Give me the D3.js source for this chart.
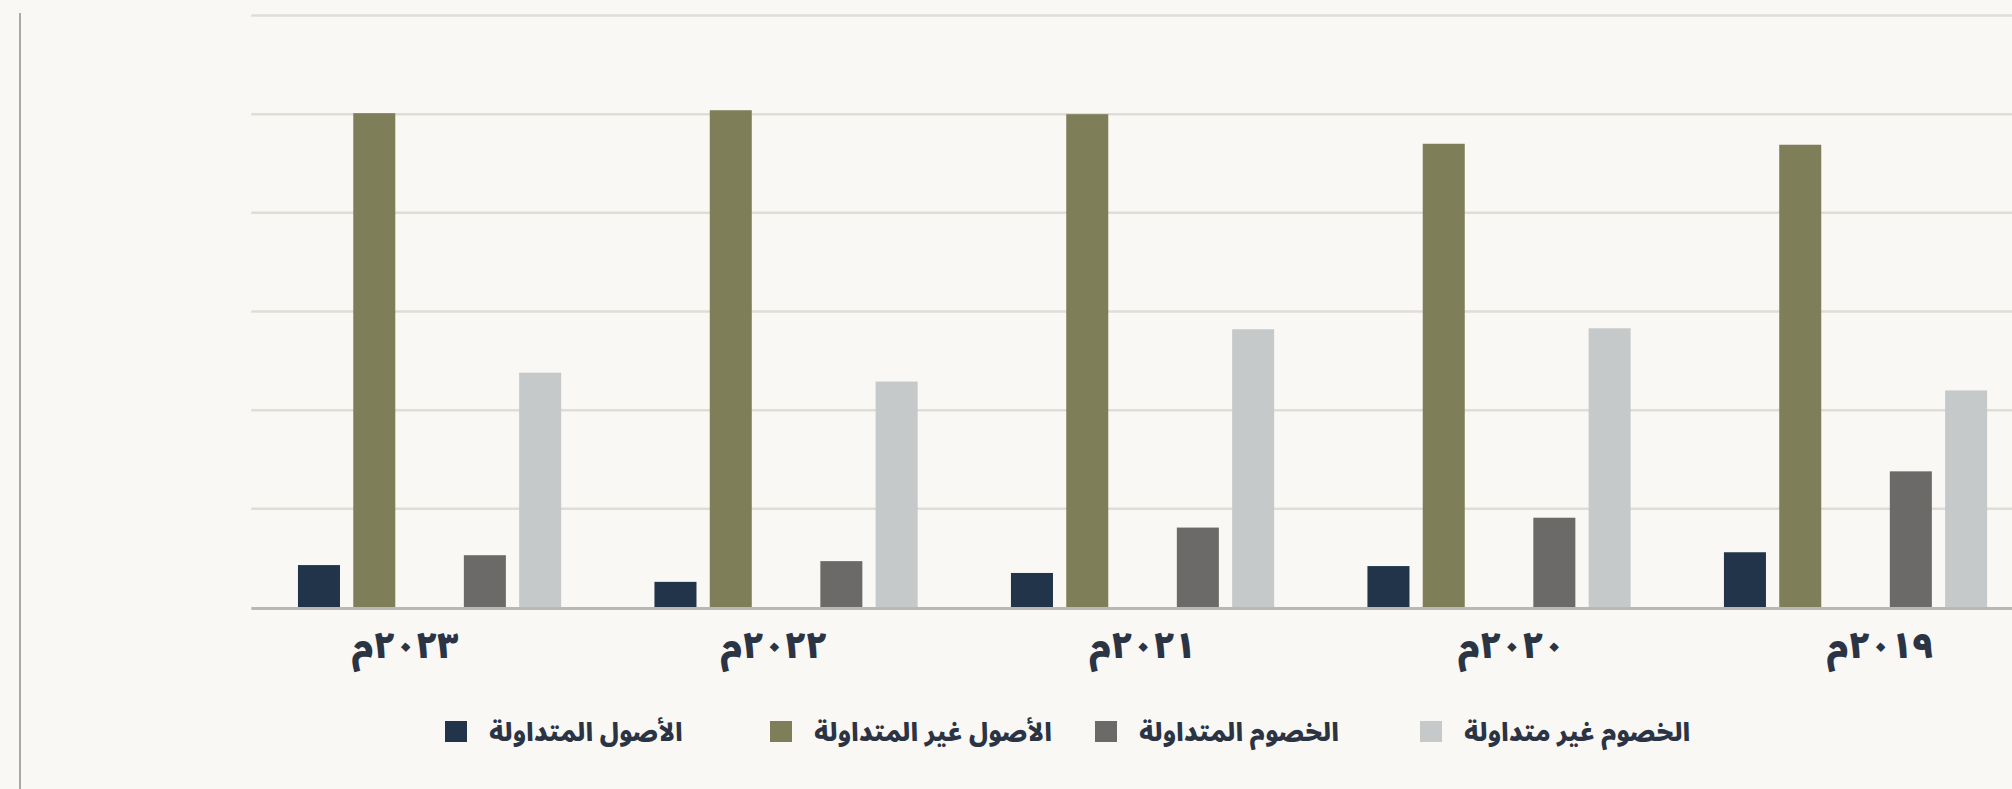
<!DOCTYPE html>
<html lang="ar">
<head>
<meta charset="utf-8">
<script src="https://cdn.jsdelivr.net/npm/d3@7/dist/d3.min.js"></script>
<style>
  html, body { margin: 0; padding: 0; background: #faf8f4; overflow: hidden; }
  svg { display: block; }
  text { font-family: "Noto Sans Arabic", "DejaVu Sans", sans-serif; font-weight: 900; }
</style>
</head>
<body>
<svg id="chart" width="2012" height="789"></svg>
<script>
// ---- data ----
const categories = ["٢٠٢٣م", "٢٠٢٢م", "٢٠٢١م", "٢٠٢٠م", "٢٠١٩م"];
const seriesNames = ["الأصول المتداولة", "الأصول غير المتداولة", "الخصوم المتداولة", "الخصوم غير متداولة"];
const currentAssets        = [43, 26, 35, 42, 56];
const nonCurrentAssets     = [501, 504, 500, 470, 469];
const currentLiabilities   = [53, 47, 81, 91, 138];
const nonCurrentLiabilities = [238, 229, 282, 283, 220];
const yTicks = [0, 100, 200, 300, 400, 500, 600];
const seriesColors = ["#213449", "#7e7f58", "#6b6a69", "#c6c9ca"];
// slot order inside each group (third slot is an empty gap in the source chart)
const slotKeys = ["s0", "s1", "gap", "s2", "s3"];

const seriesValues = [currentAssets, nonCurrentAssets, currentLiabilities, nonCurrentLiabilities];
const seriesSlot = ["s0", "s1", "s2", "s3"];

// ---- layout ----
const W = 2012, H = 789;
const svg = d3.select("#chart");
svg.append("rect").attr("width", W).attr("height", H).attr("fill", "#faf8f4");

const plotLeft = 251.3, plotRight = 2033.8;
const y = d3.scaleLinear().domain([0, 600]).range([607.5, 15.5]);
const x0 = d3.scaleBand().domain(categories).range([plotLeft, plotRight])
  .paddingInner(0.2617).paddingOuter(0.1309);
const x1 = d3.scaleBand().domain(slotKeys).range([0, x0.bandwidth()]).paddingInner(0.24);
const xLabel = d3.scalePoint().domain(categories).range([405, 1880]);

// left frame line
svg.append("line")
  .attr("x1", 20).attr("x2", 20).attr("y1", 13).attr("y2", H)
  .attr("stroke", "#a9a9a7").attr("stroke-width", 2);

// gridlines
svg.append("g").selectAll("line")
  .data(yTicks.filter(t => t !== 0))
  .join("line")
  .attr("x1", plotLeft).attr("x2", W)
  .attr("y1", d => y(d)).attr("y2", d => y(d))
  .attr("stroke", "#e0ddd7").attr("stroke-width", 2.5);

// bars
const rows = [];
categories.forEach((c, i) => {
  seriesValues.forEach((vals, s) => {
    rows.push({ cat: c, slot: seriesSlot[s], value: vals[i], color: seriesColors[s] });
  });
});
svg.append("g").selectAll("rect")
  .data(rows)
  .join("rect")
  .attr("x", d => x0(d.cat) + x1(d.slot))
  .attr("width", x1.bandwidth())
  .attr("y", d => y(d.value))
  .attr("height", d => y(0) - y(d.value))
  .attr("fill", d => d.color);

// baseline
svg.append("line")
  .attr("x1", plotLeft).attr("x2", W)
  .attr("y1", y(0) + 1).attr("y2", y(0) + 1)
  .attr("stroke", "#bab8b5").attr("stroke-width", 3);

// category labels
svg.append("g").selectAll("text")
  .data(categories)
  .join("text")
  .attr("x", d => xLabel(d))
  .attr("y", 658)
  .attr("text-anchor", "middle")
  .attr("font-size", 36)
  .attr("fill", "#2b3444")
  .text(d => d);

// legend
const legendX = d3.scalePoint().domain(d3.range(seriesNames.length)).range([445, 1420]);
const lg = svg.append("g").selectAll("g")
  .data(seriesNames.map((n, i) => ({ name: n, color: seriesColors[i], i })))
  .join("g")
  .attr("transform", d => `translate(${legendX(d.i)},0)`);
lg.append("rect")
  .attr("x", 0).attr("y", 721).attr("width", 22).attr("height", 21)
  .attr("fill", d => d.color);
lg.append("text")
  .attr("x", 44).attr("y", 741)
  .attr("text-anchor", "start")
  .attr("font-size", 25)
  .attr("fill", "#2b3444")
  .text(d => d.name);
</script>
</body>
</html>
